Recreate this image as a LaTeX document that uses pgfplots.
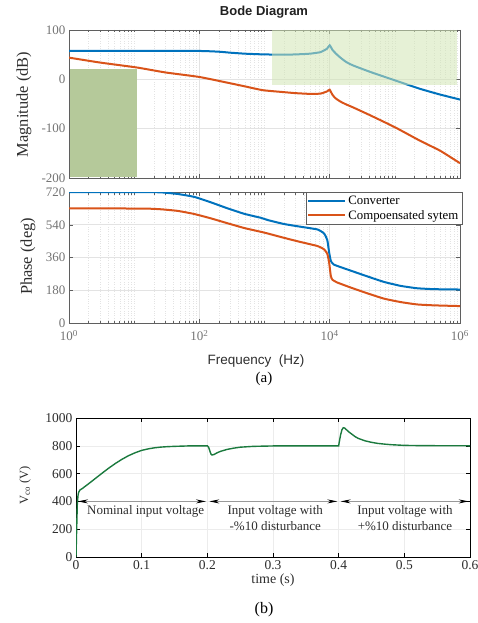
\documentclass[border=0pt]{standalone}
\usepackage{fontspec}
\setmainfont{Liberation Serif}
\setsansfont{Liberation Sans}
\usepackage{pgfplots}
\pgfplotsset{compat=1.18}
\usetikzlibrary{arrows.meta}
\definecolor{mblue}{RGB}{0,114,189}
\definecolor{mred}{RGB}{217,83,25}
\definecolor{lgreen}{RGB}{209,229,181}
\definecolor{dgreen}{RGB}{181,201,154}
\definecolor{tgreen}{RGB}{27,122,62}
\definecolor{axgray}{RGB}{95,95,95}
\definecolor{tickgray}{RGB}{115,115,115}
\definecolor{labgray}{RGB}{45,45,45}
\begin{document}
\begin{tikzpicture}
\useasboundingbox (0pt,0pt) rectangle (477pt,-623pt);
% ---------- Magnitude ----------
\begin{axis}[scale only axis, width=391pt, xmode=log, xmin=1, xmax=1e6,
    axis line style={axgray, line width=0.8pt},
    every tick/.style={axgray, line width=0.5pt},
    major tick length=4pt, minor tick length=2.5pt,
    tick align=inside, tick pos=both,
    xtick={1,100,10000,1000000},
    minor xtick={2,3,4,5,6,7,8,9,10,20,30,40,50,60,70,80,90,200,300,400,500,600,700,800,900,1000,2000,3000,4000,5000,6000,7000,8000,9000,20000,30000,40000,50000,60000,70000,80000,90000,100000,200000,300000,400000,500000,600000,700000,800000,900000},
    grid=both,
    major grid style={gray!22, line width=0.6pt},
    minor grid style={gray!22, dotted, line width=0.3pt},
    tick label style={font=\fontsize{13}{13}\selectfont, text=tickgray},
    /pgf/number format/assume math mode=true,
    /pgf/number format/1000 sep={},
  at={(69pt,-178pt)}, anchor=south west, height=148pt,
  ymin=-200, ymax=100, ytick={-200,-100,0,100}, xticklabels={}]
\addplot[mblue, line width=2pt, smooth, tension=0.3] coordinates {
(1,57.8) (10,57.8) (100,57.5) (200,56) (300,54) (500,52) (1000,50.5) (2000,50) (3000,50.5) (5000,52) (7200,55) (8000,58) (9100,62) (10000,69)
(11000,60) (12500,52) (14600,44) (18000,35) (23000,28) (42000,15) (100000,-2) (240000,-19) (500000,-31) (1000000,-41)};
\addplot[mred, line width=2pt, smooth, tension=0.3] coordinates {
(1,44) (3,34) (11,24) (30,14) (100,4.8) (270,-6.8) (490,-14) (940,-22) (2000,-26) (3000,-28) (5000,-29.5) (7200,-29) (8500,-26) (9300,-24) (10000,-21)
(11000,-31) (12200,-38) (14600,-45) (18000,-51) (23000,-57) (42000,-73) (100000,-97) (240000,-124) (500000,-145) (1000000,-170)};
\fill[lgreen, opacity=0.55] (axis cs:1310,100) rectangle (axis cs:890000,-12);
\fill[dgreen] (axis cs:1.035,20) rectangle (axis cs:11,-197);
\end{axis}
% ---------- Phase ----------
\begin{axis}[scale only axis, width=391pt, xmode=log, xmin=1, xmax=1e6,
    axis line style={axgray, line width=0.8pt},
    every tick/.style={axgray, line width=0.5pt},
    major tick length=4pt, minor tick length=2.5pt,
    tick align=inside, tick pos=both,
    xtick={1,100,10000,1000000},
    minor xtick={2,3,4,5,6,7,8,9,10,20,30,40,50,60,70,80,90,200,300,400,500,600,700,800,900,1000,2000,3000,4000,5000,6000,7000,8000,9000,20000,30000,40000,50000,60000,70000,80000,90000,100000,200000,300000,400000,500000,600000,700000,800000,900000},
    grid=both,
    major grid style={gray!22, line width=0.6pt},
    minor grid style={gray!22, dotted, line width=0.3pt},
    tick label style={font=\fontsize{13}{13}\selectfont, text=tickgray},
    /pgf/number format/assume math mode=true,
    /pgf/number format/1000 sep={},
    legend image code/.code={\draw[#1] (0pt,0pt) -- (37pt,0pt);},
  at={(69pt,-323pt)}, anchor=south west, height=131pt,
  ymin=0, ymax=720, ytick={0,180,360,540,720},
  xticklabels={10\textsuperscript{0},10\textsuperscript{2},10\textsuperscript{4},10\textsuperscript{6}},
  xticklabel style={yshift=-4pt},
  legend style={at={(axis description cs:1.005,1)}, anchor=north east, draw=axgray, fill=white,
    font=\fontsize{12.8}{14}\selectfont, inner sep=1.5pt, row sep=0.5pt},
  legend cell align=left]
\addplot[mblue, line width=2pt, smooth, tension=0.3] coordinates {
(1,720) (14,719.5) (26,718) (47,709) (84,693) (151,663) (272,630) (490,600) (885,578) (1120,566) (2000,544) (3600,529) (6500,514) (8200,492) (9200,455) (9800,390)
(10400,343) (11600,321) (21000,288) (38000,256) (68000,226) (123000,204) (220000,191) (400000,186) (1000000,184)};
\addlegendentry{Converter}
\addplot[mred, line width=2pt, smooth, tension=0.3] coordinates {
(1,630) (14,629) (26,625) (47,616) (84,599) (151,575) (272,548) (490,522) (885,501) (1120,492) (2000,468) (3600,445) (6500,423) (8200,405) (9200,380) (9800,334)
(10400,260) (11000,238) (13000,223) (21000,195) (38000,163) (68000,134) (123000,115) (220000,102) (400000,97) (1000000,93)};
\addlegendentry{Compoensated sytem}
\end{axis}
\node[font=\sffamily\bfseries\fontsize{13}{13}\selectfont, text=labgray!70!black] at (264pt,-12pt) {Bode Diagram};
\node[rotate=90, font=\fontsize{16.4}{16}\selectfont, text=labgray] at (24pt,-104.5pt) {Magnitude (dB)};
\node[rotate=90, font=\fontsize{16.4}{16}\selectfont, text=labgray] at (28pt,-256.5pt) {Phase (deg)};
\node[font=\sffamily\fontsize{13.5}{13.5}\selectfont, text=labgray] at (256pt,-361pt) {Frequency\ \ (Hz)};
\node[font=\fontsize{15}{15}\selectfont] at (264pt,-379pt) {(a)};
% ---------- Time response ----------
\begin{axis}[scale only axis, at={(76pt,-557pt)}, anchor=south west, width=394pt, height=139pt,
  xmin=0, xmax=0.6, ymin=0, ymax=1000,
  xtick={0,0.1,0.2,0.3,0.4,0.5,0.6}, xticklabels={0,0.1,0.2,0.3,0.4,0.5,0.6},
  ytick={0,200,400,600,800,1000},
  axis line style={black, line width=0.8pt},
  every tick/.style={black, line width=0.5pt}, major tick length=4pt,
  tick align=inside, tick pos=both,
  grid=major, major grid style={gray!15, line width=0.6pt},
  tick label style={font=\fontsize{13.5}{13.5}\selectfont, text=labgray},
  /pgf/number format/assume math mode=true,
  /pgf/number format/1000 sep={}]
\addplot[tgreen, line width=1.4pt] coordinates {
(0,0) (0.001,200) (0.002,380) (0.003,440) (0.004,465) (0.006,482) (0.01,494) (0.02,530) (0.03,567) (0.04,604) (0.05,640) (0.06,673) (0.07,703) (0.08,729) (0.09,750) (0.1,767) (0.11,778) (0.12,786) (0.13,791) (0.14,794) (0.15,796) (0.17,799) (0.2,800)
(0.202,790) (0.204,760) (0.2055,741) (0.207,734) (0.21,737) (0.215,750) (0.22,760) (0.23,774) (0.24,783) (0.25,790) (0.27,796) (0.3,799) (0.35,800) (0.4,800)
(0.401,830) (0.403,880) (0.405,915) (0.407,930) (0.409,928) (0.412,915) (0.416,898) (0.42,884) (0.425,866) (0.43,853) (0.44,836) (0.45,825) (0.46,817) (0.47,812) (0.48,808) (0.5,803) (0.53,801) (0.6,800)};
\draw[gray!80, line width=0.8pt, {Stealth[black,length=10pt,width=4pt]}-{Stealth[black,length=10pt,width=4pt]}] (axis cs:0.003,400) -- (axis cs:0.198,400);
\draw[gray!80, line width=0.8pt, {Stealth[black,length=10pt,width=4pt]}-{Stealth[black,length=10pt,width=4pt]}] (axis cs:0.203,400) -- (axis cs:0.398,400);
\draw[gray!80, line width=0.8pt, {Stealth[black,length=10pt,width=4pt]}-{Stealth[black,length=10pt,width=4pt]}] (axis cs:0.403,400) -- (axis cs:0.598,400);
\node[font=\fontsize{13}{15}\selectfont, text=labgray] at (axis cs:0.106,326) {Nominal input voltage};
\node[font=\fontsize{13}{16.5}\selectfont, text=labgray, align=center] at (axis cs:0.3035,280) {Input voltage with\\-\%10 disturbance};
\node[font=\fontsize{13}{16.5}\selectfont, text=labgray, align=center] at (axis cs:0.501,280) {Input voltage with\\+\%10 disturbance};
\end{axis}
\node[rotate=90, font=\fontsize{12.5}{12.5}\selectfont, text=labgray] at (25pt,-485pt) {V\textsubscript{co} (V)};
\node[font=\fontsize{14}{14}\selectfont, text=labgray] at (273pt,-580pt) {time (s)};
\node[font=\fontsize{16}{16}\selectfont] at (264pt,-610pt) {(b)};
\end{tikzpicture}
\end{document}
